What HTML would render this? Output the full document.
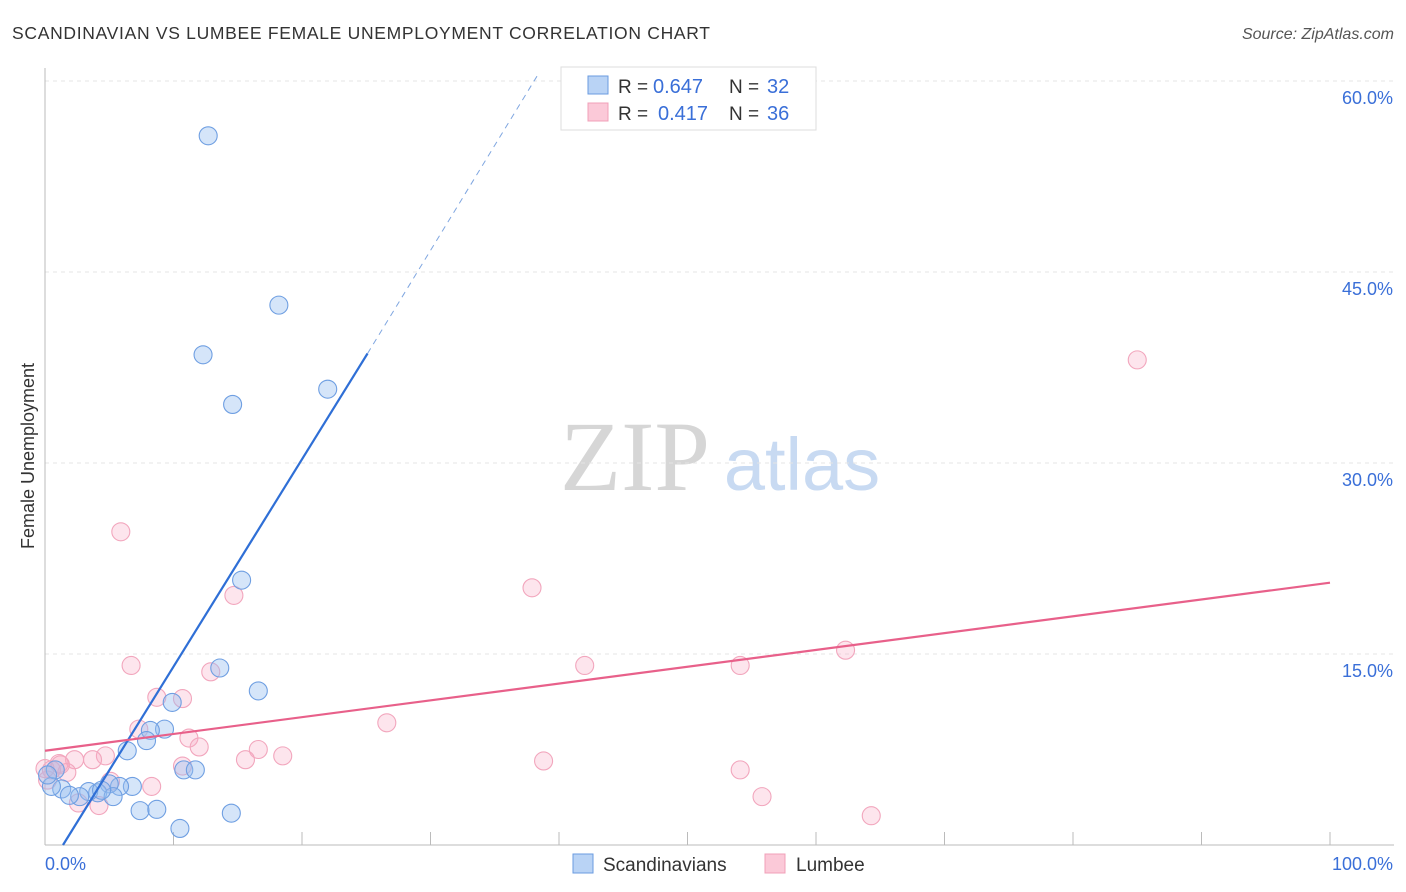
<!DOCTYPE html>
<html><head><meta charset="utf-8"><style>
body{margin:0;background:#fff;font-family:"Liberation Sans",sans-serif}
</style></head><body>
<svg id="c" width="1406" height="892" style="position:absolute;left:0;top:0">
<text x="12" y="39" font-size="17.5" fill="#333" textLength="698" lengthAdjust="spacing">SCANDINAVIAN VS LUMBEE FEMALE UNEMPLOYMENT CORRELATION CHART</text>
<text x="1394" y="39" font-size="16" fill="#555" font-style="italic" text-anchor="end">Source: ZipAtlas.com</text>
<text x="635" y="490" font-size="100" fill="#d6d6d6" font-family="Liberation Serif,serif" text-anchor="middle">ZIP</text>
<text x="802" y="490" font-size="74" fill="#c8daf2" text-anchor="middle">atlas</text>
<text transform="translate(34,456) rotate(-90)" font-size="18" fill="#333" text-anchor="middle">Female Unemployment</text>
<g id="grid"></g><g id="axes"></g><g id="pts"></g><g id="lines"></g>
<g>
<rect x="561" y="67" width="255" height="63" fill="#fff" stroke="#ddd"/>
<rect x="588" y="76" width="20" height="18" fill="#b9d3f5" stroke="#6a9be0"/>
<rect x="588" y="103" width="20" height="18" fill="#fbc9d8" stroke="#f0a0b8"/>
<text x="618" y="93" font-size="19" fill="#333">R =</text>
<text x="653" y="93" font-size="20" fill="#3a6fd8">0.647</text>
<text x="729" y="93" font-size="19" fill="#333">N =</text>
<text x="767" y="93" font-size="20" fill="#3a6fd8">32</text>
<text x="618" y="120" font-size="19" fill="#333">R =</text>
<text x="658" y="120" font-size="20" fill="#3a6fd8">0.417</text>
<text x="729" y="120" font-size="19" fill="#333">N =</text>
<text x="767" y="120" font-size="20" fill="#3a6fd8">36</text>
</g>
<g>
<rect x="573" y="854" width="20" height="19" fill="#b9d3f5" stroke="#6a9be0"/>
<text x="603" y="871" font-size="19" fill="#333">Scandinavians</text>
<rect x="765" y="854" width="20" height="19" fill="#fbc9d8" stroke="#f0a0b8"/>
<text x="796" y="871" font-size="19" fill="#333">Lumbee</text>
</g>
</svg>
<script>
const yTicks=[15,30,45,60];
const yTickLabels=["15.0%","30.0%","45.0%","60.0%"];
const xTicks=[0,10,20,30,40,50,60,70,80,90,100];
const blueX=[12.7,18.2,12.3,14.6,22.0,15.3,13.6,16.6,9.9,9.3,8.2,7.9,6.4,10.8,11.7,6.8,5.8,5.0,4.1,3.4,2.7,1.3,0.5,0.8,0.2,5.3,7.4,8.7,10.5,14.5,1.9,4.4];
const blueY=[55.7,42.4,38.5,34.6,35.8,20.8,13.9,12.1,11.2,9.1,9.0,8.2,7.4,5.9,5.9,4.6,4.6,4.8,4.1,4.2,3.8,4.4,4.6,5.9,5.5,3.8,2.7,2.8,1.3,2.5,3.9,4.3];
const pinkX=[85.0,5.9,37.9,14.7,6.7,42.0,54.1,62.3,12.9,8.7,10.7,26.6,7.3,11.2,12.0,16.6,15.6,18.5,38.8,4.7,3.7,2.3,1.1,1.7,0.5,10.7,54.1,55.8,64.3,8.3,5.1,2.6,4.2,0.2,1.2,0.0];
const pinkY=[38.1,24.6,20.2,19.6,14.1,14.1,14.1,15.3,13.6,11.6,11.5,9.6,9.1,8.4,7.7,7.5,6.7,7.0,6.6,7.0,6.7,6.7,6.4,5.7,5.9,6.2,5.9,3.8,2.3,4.6,5.0,3.3,3.1,5.1,6.3,6.0];
const blueTrend=[[1.4,0],[25.1,38.6],[38.3,60.4]];
const pinkTrend=[[0,7.4],[100,20.6]];
const X=v=>45+v*12.85, Y=v=>845-v*12.733;
const NS="http://www.w3.org/2000/svg";
function mk(p,t,a){const e=document.createElementNS(NS,t);for(const k in a)e.setAttribute(k,a[k]);document.getElementById(p).appendChild(e);return e;}
yTicks.forEach((t,i)=>{
 const g=mk('grid','line',{x1:45,x2:1394,y1:Y(t),y2:Y(t),stroke:'#e4e4e4','stroke-width':1,'stroke-dasharray':'4,4'});
 
 
 const l=mk('grid','text',{x:1393,y:Y(t)+23,'font-size':18,fill:'#3a6fd8','text-anchor':'end'});
 l.textContent=yTickLabels[i];
 
 
});
mk('axes','line',{x1:45,x2:45,y1:68,y2:845,stroke:'#bbb'});
mk('axes','line',{x1:45,x2:1394,y1:845,y2:845,stroke:'#bbb'});
xTicks.forEach(t=>{const e=mk('axes','line',{x1:X(t),x2:X(t),y1:832,y2:845,stroke:'#bbb'});
 
 });
let a=mk('axes','text',{x:45,y:870,'font-size':18,fill:'#3a6fd8'});a.textContent='0.0%';


a=mk('axes','text',{x:1393,y:870,'font-size':18,fill:'#3a6fd8','text-anchor':'end'});a.textContent='100.0%';


pinkX.forEach((v,i)=>{const c=mk('pts','circle',{cx:X(v),cy:Y(pinkY[i]),r:9,fill:'rgba(248,170,195,0.3)',stroke:'#f2a6bd','stroke-width':1.1});
 
 });
blueX.forEach((v,i)=>{const c=mk('pts','circle',{cx:X(v),cy:Y(blueY[i]),r:9,fill:'rgba(150,190,240,0.4)',stroke:'#6f9fe2','stroke-width':1.1});
 
 });
let t=mk('lines','line',{x1:X(blueTrend[0][0]),y1:Y(blueTrend[0][1]),x2:X(blueTrend[1][0]),y2:Y(blueTrend[1][1]),stroke:'#2f6fd6','stroke-width':2.2});


t=mk('lines','line',{x1:X(blueTrend[1][0]),y1:Y(blueTrend[1][1]),x2:X(blueTrend[2][0]),y2:Y(blueTrend[2][1]),stroke:'#7fa6e0','stroke-width':1,'stroke-dasharray':'6,5'});


t=mk('lines','line',{x1:X(pinkTrend[0][0]),y1:Y(pinkTrend[0][1]),x2:X(pinkTrend[1][0]),y2:Y(pinkTrend[1][1]),stroke:'#e8608a','stroke-width':2.2});


</script>
</body></html>
